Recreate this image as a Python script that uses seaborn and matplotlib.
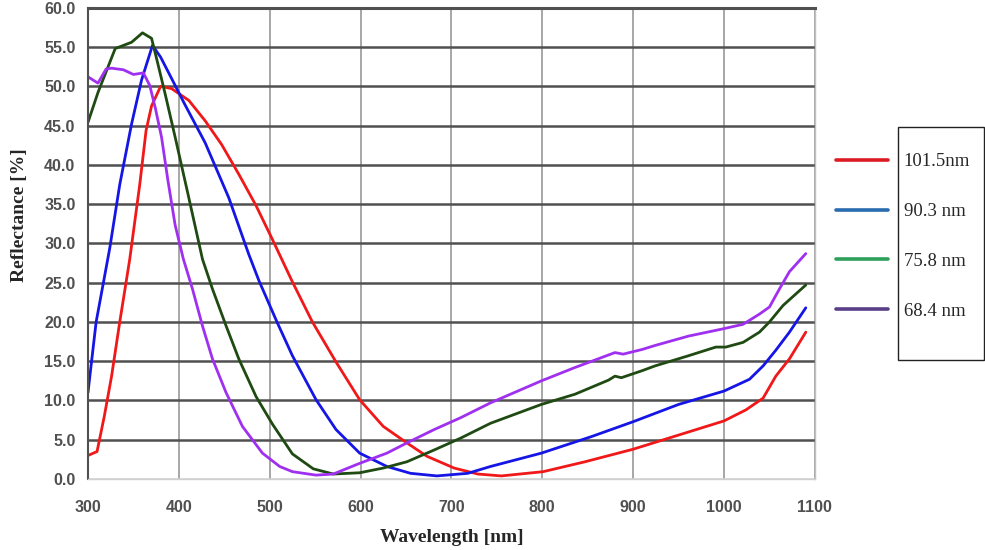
import matplotlib
matplotlib.use("Agg")
import matplotlib.pyplot as plt
import numpy as np
import pandas as pd
import seaborn as sns
from matplotlib.lines import Line2D
from matplotlib.patches import Rectangle


# thickness labels (legend order)
LABELS = ["101.5nm", "90.3 nm", "75.8 nm", "68.4 nm"]

wl_1015 = [300, 310, 318, 326, 335, 346, 357, 364, 370, 380, 392, 411, 429, 447, 466,
           485, 503, 525, 547, 573, 599, 625, 651, 673, 703, 729, 755, 801, 847, 900,
           950, 1000, 1024, 1043, 1057, 1072, 1090]
r_1015 = [3.0, 3.5, 8.0, 13.1, 20.0, 28.0, 37.5, 44.4, 47.5, 50.0, 49.7, 48.2, 45.6, 42.6, 38.8,
          34.8, 30.5, 25.1, 20.0, 14.9, 10.1, 6.7, 4.6, 2.9, 1.4, 0.64, 0.4, 0.94, 2.2, 3.8,
          5.6, 7.4, 8.8, 10.3, 13.1, 15.3, 18.7]

wl_903 = [300, 309, 317, 324, 335, 348, 359, 371, 380, 392, 407, 429, 455, 477, 488,
          508, 525, 551, 573, 599, 629, 655, 684, 718, 743, 799, 854, 900,
          950, 1000, 1028, 1043, 1057, 1072, 1090]
r_903 = [11.0, 20.0, 25.0, 29.4, 37.5, 45.2, 50.8, 55.2, 53.7, 51.0, 47.6, 42.8, 35.8, 28.6, 25.3,
         20.0, 15.7, 10.1, 6.3, 3.3, 1.6, 0.73, 0.4, 0.73, 1.6, 3.3, 5.4, 7.3,
         9.5, 11.2, 12.7, 14.4, 16.4, 18.7, 21.8]

wl_758 = [300, 311, 330, 348, 360, 370, 376, 385, 396, 411, 426, 437, 452, 466, 485,
          503, 525, 548, 570, 599, 625, 651, 681, 710, 743, 799, 836, 873, 880, 887,
          910, 924, 961, 991, 1002, 1021, 1039, 1050, 1065, 1090]
r_758 = [45.4, 49.2, 54.8, 55.6, 56.8, 56.1, 53.3, 49.0, 43.5, 35.8, 28.0, 24.2, 19.5, 15.3, 10.5,
         7.0, 3.2, 1.3, 0.64, 0.8, 1.4, 2.2, 3.7, 5.2, 7.1, 9.5, 10.8, 12.6, 13.1, 12.9,
         13.8, 14.4, 15.7, 16.8, 16.8, 17.4, 18.7, 20.0, 22.1, 24.7]

wl_684 = [300, 311, 320, 326, 339, 350, 361, 368, 374, 381, 388, 396, 405, 415, 426,
          437, 452, 470, 492, 511, 525, 551, 570, 599, 629, 651, 681, 710, 743, 799,
          836, 873, 880, 889, 910, 924, 961, 998, 1021, 1039, 1050, 1061, 1072, 1090]
r_684 = [51.2, 50.4, 52.2, 52.3, 52.1, 51.5, 51.7, 50.1, 47.3, 43.5, 38.0, 32.3, 28.0, 24.2, 19.5,
         15.3, 11.0, 6.7, 3.3, 1.6, 0.94, 0.5, 0.64, 2.0, 3.3, 4.6, 6.3, 7.8, 9.7, 12.5,
         14.2, 15.8, 16.1, 15.9, 16.5, 17.0, 18.2, 19.1, 19.7, 21.0, 21.9, 24.2, 26.4, 28.7]

LINE_COLORS = ["#f01818", "#1515e6", "#1f4a12", "#a030f0"]
LEGEND_COLORS = ["#dc1c24", "#2a6cb0", "#2ea05c", "#583f88"]


def build_frame() -> pd.DataFrame:
    parts = []
    for label, wl, refl in zip(LABELS, [wl_1015, wl_903, wl_758, wl_684],
                               [r_1015, r_903, r_758, r_684]):
        parts.append(pd.DataFrame({"wavelength": wl, "reflectance": refl, "film": label}))
    return pd.concat(parts, ignore_index=True)


def main() -> None:
    df = build_frame()
    sns.set_style("white")

    fig = plt.figure(figsize=(9.85, 5.5), dpi=100)
    ax = fig.add_axes([0.0893, 0.129, 0.738, 0.857])

    sns.lineplot(
        data=df, x="wavelength", y="reflectance", hue="film",
        palette=dict(zip(LABELS, LINE_COLORS)), hue_order=LABELS,
        sort=False, estimator=None, linewidth=2.0, legend=False, ax=ax,
    )

    ax.set_xlim(300, 1100)
    ax.set_ylim(0, 60)
    ax.set_xticks(np.arange(300, 1101, 100))
    ax.set_yticks(np.arange(0, 60.1, 5))
    ax.set_yticklabels([f"{v:.1f}" for v in np.arange(0, 60.1, 5)])

    ax.set_axisbelow(True)
    ax.yaxis.grid(True, color="#505050", linewidth=1.8)
    ax.xaxis.grid(True, color="#a0a0a0", linewidth=1.3)
    ax.get_ygridlines()[0].set_color("#d0d0d0")

    for side, col, lw in [("left", "#505050", 1.5), ("top", "#505050", 2.2),
                          ("right", "#c0c0c0", 1.0), ("bottom", "#d0d0d0", 1.0)]:
        ax.spines[side].set_color(col)
        ax.spines[side].set_linewidth(lw)

    for lab in ax.get_xticklabels() + ax.get_yticklabels():
        lab.set_fontfamily("Liberation Sans")
        lab.set_fontweight("bold")
        lab.set_fontsize(11.5)
        lab.set_color("#505050")
    ax.tick_params(axis="x", direction="out", length=6, width=1.5, color="#333333", pad=9)
    ax.tick_params(axis="y", direction="out", length=4, width=1.5, color="#333333", pad=5)

    label_font = {"family": "Liberation Serif", "weight": "bold", "size": 14}
    ax.set_xlabel("Wavelength [nm]", fontdict=label_font, labelpad=10)
    ax.set_ylabel("Reflectance [%]", fontdict=label_font, labelpad=8)
    ax.yaxis.set_label_coords(-0.082, 0.56)

    handles = [Line2D([], [], color=c, linewidth=2.6) for c in LEGEND_COLORS]
    leg = fig.legend(
        handles, LABELS, loc="upper left", bbox_to_anchor=(836 / 985, 1 - 153 / 550),
        frameon=False, borderpad=0, borderaxespad=0,
        handlelength=2.75, handletextpad=0.85, labelspacing=1.75,
        prop={"family": "Liberation Serif", "size": 13.5},
    )

    # box drawn around the legend texts only (the handles sit outside it)
    fig.canvas.draw()
    renderer = fig.canvas.get_renderer()
    boxes = [t.get_window_extent(renderer) for t in leg.get_texts()]
    x0 = min(b.x0 for b in boxes) - 6
    y0 = min(b.y0 for b in boxes) - 40
    y1 = max(b.y1 for b in boxes) + 26
    inv = fig.transFigure.inverted()
    (fx0, fy0), (fx1, fy1) = inv.transform([(x0, y0), (985 - 1, y1)])
    fig.patches.append(Rectangle((fx0, fy0), fx1 - fx0, fy1 - fy0, transform=fig.transFigure,
                                 fill=False, edgecolor="#222222", linewidth=1.0))

    fig.savefig("out.png", dpi=100)
    plt.close(fig)


if __name__ == "__main__":
    main()
